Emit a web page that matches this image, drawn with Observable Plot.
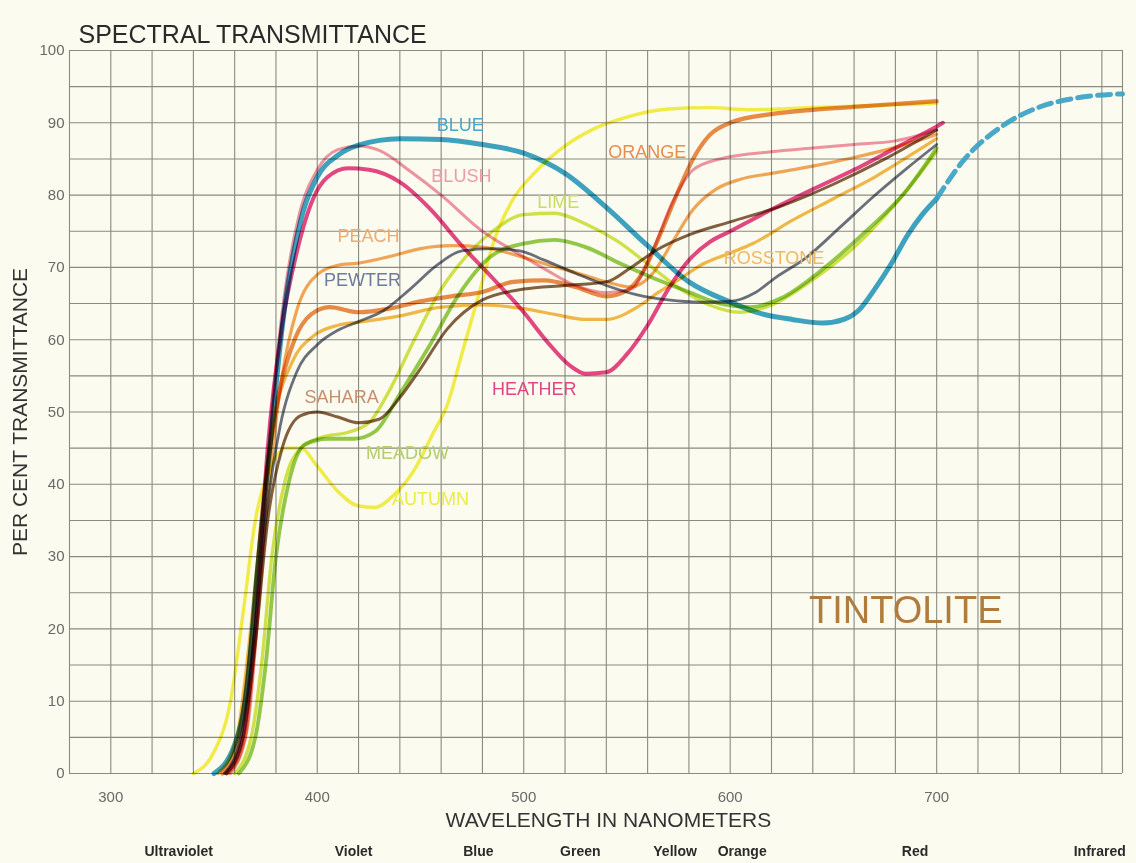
<!DOCTYPE html>
<html>
<head>
<meta charset="utf-8">
<script src="https://cdn.jsdelivr.net/npm/d3@7"></script>
<script src="https://cdn.jsdelivr.net/npm/@observablehq/plot@0.6"></script>
<style>
  html, body { margin: 0; padding: 0; background: #fbfbef; }
  #chart { width: 1136px; height: 863px; }
</style>
</head>
<body>
<div id="chart"></div>
<script>
// ---- Data: [wavelength (nm), per cent transmittance] ----
const AUTUMN = [[340,0],[350,3],[358,10],[364,22],[370,35],[377,42],[385,45],[392,45],[400,42.5],[410,39],[420,37],[428,36.8],[437,38.5],[447,42],[456,47],[463,51],[470,58],[478,66],[486,74],[495,79.5],[505,83],[520,86.8],[535,89.3],[550,90.8],[570,91.9],[590,92.1],[610,91.8],[630,92],[660,92.3],[700,92.7]];
const LIME = [[360,0],[368,5],[373,15],[378,30],[384,40],[392,45],[402,46.5],[415,47.2],[425,48.5],[435,53],[447,60],[460,67],[472,71.5],[485,75],[500,77.3],[515,77.5],[530,76],[545,73.7],[560,70.5],[575,67.2],[590,64.8],[605,63.8],[620,64.8],[640,68.3],[660,72.8],[680,78.8],[700,86]];
const MEADOW = [[362,0],[370,5],[375,15],[380,30],[386,40],[394,45.5],[405,46.3],[418,46.3],[428,47.3],[440,52.5],[454,59],[468,66],[484,71.5],[500,73.3],[515,73.8],[530,72.8],[547,70.5],[563,68.5],[580,66.6],[595,65],[610,64.5],[625,65.8],[645,69.8],[665,74.8],[685,80.5],[700,86.5]];
const ROSSTONE = [[352,0],[361,5],[367,18],[373,35],[380,50],[388,57],[398,60.5],[410,62],[422,62.5],[440,63.3],[460,64.5],[480,64.8],[500,64.3],[515,63.5],[530,62.8],[540,62.8],[555,64.5],[565,66.5],[575,68.3],[587,70.5],[600,72],[611,73.3],[630,76.5],[650,79.5],[670,82.5],[690,86],[700,87.8]];
const PEACH = [[357,0],[365,5],[370,18],[376,38],[383,55],[390,64],[400,69],[410,70.3],[420,70.6],[435,71.5],[450,72.6],[465,73],[480,72.8],[495,71.8],[510,70.5],[525,69.3],[540,68],[552,67.3],[562,69],[572,73.5],[582,78],[593,80.8],[605,82.2],[620,83],[640,84],[660,85.2],[680,86.6],[700,88.4]];
const SAHARA = [[356,0],[364,5],[370,18],[376,35],[383,45],[392,49.5],[400,50],[410,49.3],[420,48.5],[430,49],[440,52],[450,56],[463,61.5],[480,65.5],[500,67],[520,67.5],[540,68],[552,70],[565,72.5],[580,74.5],[600,76.3],[625,78.5],[650,81.5],[675,85],[700,89]];
const PEWTER = [[355,0],[363,5],[369,18],[375,35],[382,48],[390,55.5],[400,59.3],[410,61.3],[420,62.5],[432,64],[445,67],[458,70.3],[470,72.3],[485,72.6],[498,72.3],[510,71],[525,69.2],[540,67.5],[555,66.2],[570,65.5],[585,65.2],[600,65.3],[612,66.5],[622,68.6],[637,71.4],[653,75.5],[669,79.7],[686,83.8],[700,87]];
const ORANGE = [[354,0],[362,5],[368,18],[374,38],[381,52],[389,60],[397,63.5],[406,64.5],[420,63.8],[435,64.3],[450,65.3],[465,66],[480,66.6],[495,68],[510,68.2],[525,67.3],[540,66],[550,66.8],[558,69.5],[566,74.5],[574,80],[582,85],[590,88.3],[600,90],[620,91.2],[640,91.8],[660,92.2],[680,92.6],[700,93]];
const BLUSH = [[358,0],[366,6],[372,25],[378,50],[384,66],[391,77],[400,83.5],[410,86.3],[420,86.8],[430,86.2],[445,83.3],[460,80],[480,75],[495,72.3],[510,69.8],[525,67.5],[540,66.5],[552,67],[562,72],[572,79],[582,83.5],[595,85],[620,86],[640,86.5],[660,87],[680,87.5],[700,89]];
const HEATHER = [[356,0],[364,5],[370,20],[376,45],[383,62],[390,72],[398,79.5],[405,82.5],[415,83.7],[425,83.5],[440,81.8],[455,78],[470,73],[485,68.5],[500,63.8],[512,59.5],[522,56.5],[530,55.3],[540,55.5],[550,58],[560,62],[570,67],[580,71],[590,73.5],[600,75],[620,78],[640,80.8],[660,83.5],[680,86.5],[700,89.5],[703,90]];
const BLUE = [[350,0],[360,4],[366,12],[371,28],[377,45],[384,64],[392,76.5],[400,82.5],[410,85.5],[420,86.9],[440,87.8],[460,87.7],[480,87],[500,85.8],[520,83],[540,78.3],[560,73],[580,68],[600,65.2],[615,63.6],[630,62.8],[645,62.3],[655,62.8],[662,64],[670,67],[678,70.5],[686,74.5],[693,77.3],[700,79.5]];
const BLUE_IR = [[700,79.5],[713,84.8],[731,89.4],[749,92.1],[767,93.4],[790,94]];

const SERIES = ["AUTUMN","LIME","MEADOW","ROSSTONE","PEACH","SAHARA","PEWTER","ORANGE","BLUSH","HEATHER","BLUE"];

// curve labels
const LABEL_NAMES = ["BLUE","BLUSH","LIME","ORANGE","PEACH","PEWTER","ROSSTONE","SAHARA","HEATHER","MEADOW","AUTUMN"];
const LABEL_WL    = [469.3, 469.8, 516.7, 559.8, 424.8, 421.9, 621.2, 411.8, 505.1, 443.7, 454.8];
const LABEL_T     = [89.6, 82.6, 79, 85.9, 74.3, 68.2, 71.2, 52, 53.1, 44.3, 37.9];

// axis ticks
const X_TICKS = [300, 400, 500, 600, 700];
const Y_TICKS = [0, 10, 20, 30, 40, 50, 60, 70, 80, 90, 100];

// spectrum band names under the axis
const BAND_NAMES = ["Ultraviolet","Violet","Blue","Green","Yellow","Orange","Red","Infrared"];
const BAND_WL    = [332.9, 417.6, 478, 527.4, 573.3, 605.8, 689.5, 779];

// ---- Styles ----
const LINE_STYLE = {
  AUTUMN:   {stroke: "#f3ee3c", w: 3.4},
  LIME:     {stroke: "#cfe23e", w: 3.4},
  MEADOW:   {stroke: "#8cc63c", w: 3.8},
  ROSSTONE: {stroke: "#f2b43c", w: 3.2},
  PEACH:    {stroke: "#f2a14c", w: 3.2},
  SAHARA:   {stroke: "#7a5232", w: 3.0},
  PEWTER:   {stroke: "#5e6578", w: 2.8},
  ORANGE:   {stroke: "#e8823a", w: 4.2},
  BLUSH:    {stroke: "#ef8ca2", w: 3.0},
  HEATHER:  {stroke: "#e23a7e", w: 4.0},
  BLUE:     {stroke: "#2f9cc6", w: 5.0}
};
const LABEL_COLOR = {
  BLUE: "#4aa7cc", BLUSH: "#ef9aab", LIME: "#c8dc66", ORANGE: "#ea8c4e",
  PEACH: "#f0a96e", PEWTER: "#6c7c9c", ROSSTONE: "#f0b860", SAHARA: "#c48f6c",
  HEATHER: "#e04685", MEADOW: "#b2cf6c", AUTUMN: "#eceb4c"
};

const DATA = {AUTUMN, LIME, MEADOW, ROSSTONE, PEACH, SAHARA, PEWTER, ORANGE, BLUSH, HEATHER, BLUE};
const FONT = "'Liberation Sans', Arial, Helvetica, sans-serif";

const gridX = d3.range(280, 781, 20).concat([790]);
const gridY = d3.range(0, 101, 5);

const lineMarks = SERIES.map(name => Plot.line(DATA[name], {
  x: d => d[0], y: d => d[1],
  curve: "monotone-x",
  stroke: LINE_STYLE[name].stroke,
  strokeWidth: LINE_STYLE[name].w,
  strokeOpacity: 0.92,
  mixBlendMode: "multiply"
}));

const labelMarks = LABEL_NAMES.map((name, i) => Plot.text([name], {
  x: () => LABEL_WL[i], y: () => LABEL_T[i],
  text: d => d,
  fill: LABEL_COLOR[name],
  fontSize: 18, fontFamily: FONT, textAnchor: "middle",
  style: "letter-spacing:1px"
}));

const chart = Plot.plot({
  width: 1136,
  height: 863,
  marginLeft: 69,
  marginRight: 14,
  marginTop: 50,
  marginBottom: 90,
  style: {background: "transparent", fontFamily: FONT},
  x: {domain: [280, 790]},
  y: {domain: [0, 100]},
  marks: [
    Plot.ruleX(gridX, {stroke: "#8a8a80", strokeWidth: 1.1}),
    Plot.ruleY(gridY, {stroke: "#8a8a80", strokeWidth: 1.1}),
    Plot.axisX(X_TICKS, {tickSize: 0, tickPadding: 18, fontSize: 15, fill: "#6a6a66", label: null}),
    Plot.axisY(Y_TICKS, {tickSize: 0, tickPadding: 5, fontSize: 15, fill: "#6a6a66", label: null}),
    ...lineMarks,
    Plot.line(BLUE_IR, {x: d => d[0], y: d => d[1], curve: "monotone-x", stroke: "#3aa2c6",
      strokeWidth: 5, strokeDasharray: "13,7", strokeOpacity: 0.92}),
    ...labelMarks,
    Plot.text(["TINTOLITE"], {x: () => 685, y: () => 22.5, text: d => d, fill: "#b07c3e",
      fontSize: 38, fontFamily: FONT, textAnchor: "middle"}),
    Plot.text(["SPECTRAL TRANSMITTANCE"], {frameAnchor: "top-left", text: d => d, dx: 9, dy: -25,
      textAnchor: "start", fontSize: 25, fill: "#2a2a2a", fontFamily: FONT, style: "letter-spacing:0.9px"}),
    Plot.text(["PER CENT TRANSMITTANCE"], {frameAnchor: "left", text: d => d, dx: -49, rotate: -90,
      textAnchor: "middle", fontSize: 21, fill: "#333", fontFamily: FONT, style: "letter-spacing:1.6px"}),
    Plot.text(["WAVELENGTH IN NANOMETERS"], {x: () => 541, frameAnchor: "bottom", text: d => d, dy: 53,
      textAnchor: "middle", fontSize: 21, fill: "#333", fontFamily: FONT}),
    Plot.text(BAND_NAMES, {x: (d, i) => BAND_WL[i], frameAnchor: "bottom", text: d => d, dy: 82,
      textAnchor: "middle", fontSize: 14, fontWeight: "bold", fill: "#2a2a2a", fontFamily: FONT,
      style: "letter-spacing:0.6px"})
  ]
});

document.getElementById("chart").appendChild(chart);
</script>
</body>
</html>
